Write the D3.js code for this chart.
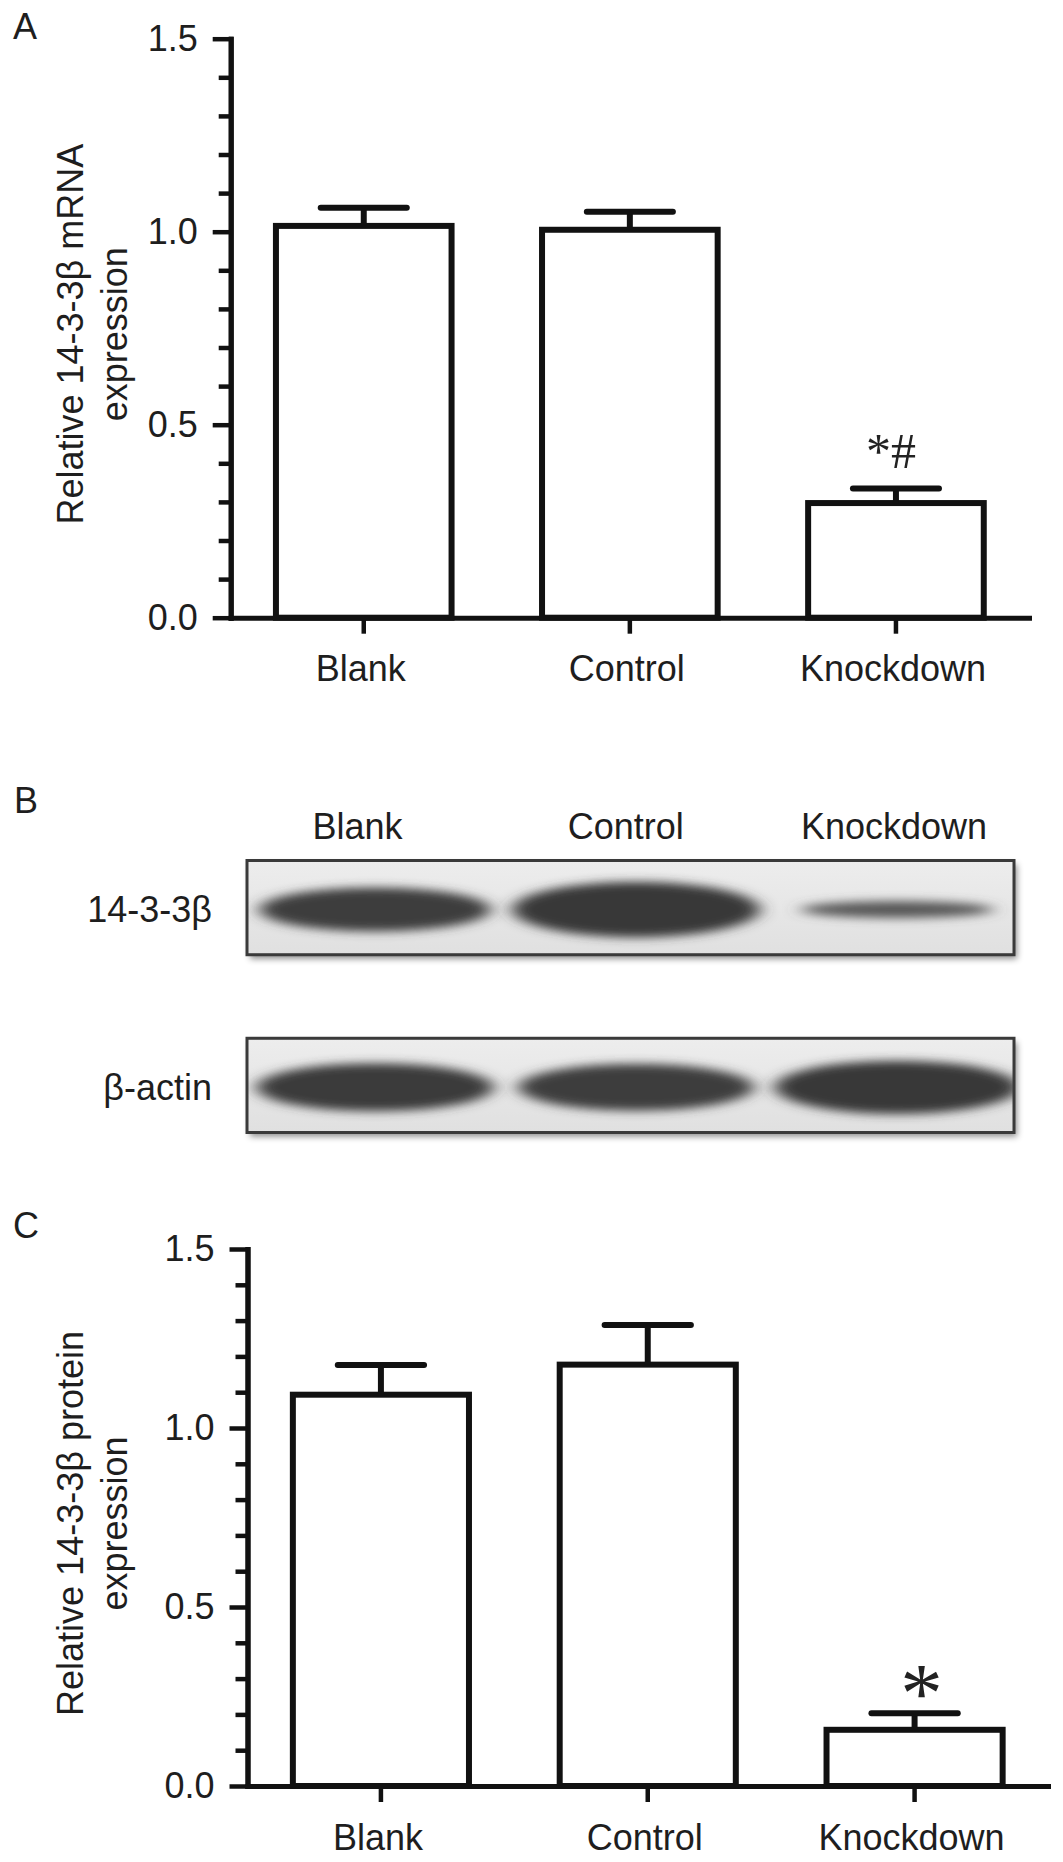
<!DOCTYPE html>
<html>
<head>
<meta charset="utf-8">
<script src="https://cdn.jsdelivr.net/npm/d3@7"></script>
<style>
  body { margin: 0; background: #fff; }
  svg text { font-family: "Liberation Sans", Arial, sans-serif; fill: #1e1e1e; }
  .axis .domain { stroke: #111; stroke-width: 5; stroke-linecap: square; }
  .axis .tick line { stroke: #111; stroke-width: 4.5; }
  .axis .tick text { font-size: 36px; }
  .mark { font-family: "Liberation Serif", "Times New Roman", serif !important; }
</style>
</head>
<body>
<div id="fig"></div>
<script>
// values
var groups = ['Blank', 'Control', 'Knockdown']

var mrnaMean = [1.015, 1.005, 0.297]
var mrnaErr  = [0.047, 0.047, 0.038]
var mrnaMark = ['', '', '*#']

var proteinMean = [1.093, 1.177, 0.157]
var proteinErr  = [0.083, 0.111, 0.046]
var proteinMark = ['', '', '*']

var yTicks = [0, 0.5, 1.0, 1.5]
var yMinor = [0.1, 0.2, 0.3, 0.4, 0.6, 0.7, 0.8, 0.9, 1.1, 1.2, 1.3, 1.4]

// western blot rows and relative band densities
var blotRows = ['14-3-3β', 'β-actin']
var targetDensity = [0.96, 1.18, 0.44]
var actinDensity  = [1.04, 1.02, 1.14]

var W = 1063, H = 1862

var svg = d3.select('#fig').append('svg')
    .attr('width', W)
    .attr('height', H)
    .attr('viewBox', '0 0 ' + W + ' ' + H)

var defs = svg.append('defs')

function barPanel(cfg) {
  var y = d3.scaleLinear().domain([0, 1.5]).range([cfg.y0, cfg.y1])
  var x = d3.scaleBand().domain(groups)
      .range([cfg.left, cfg.right])
      .paddingInner(0.34)
      .paddingOuter(0.17)

  var g = svg.append('g')

  // panel letter
  g.append('text')
      .attr('x', 13)
      .attr('y', cfg.letterY)
      .style('font-size', '36px')
      .text(cfg.letter)

  // minor ticks
  g.append('g')
      .attr('class', 'axis')
      .attr('transform', 'translate(' + cfg.left + ',0)')
      .call(d3.axisLeft(y).tickValues(yMinor).tickSize(12).tickSizeOuter(0).tickFormat(''))

  g.append('g')
      .attr('class', 'axis')
      .attr('transform', 'translate(' + cfg.left + ',0)')
      .call(d3.axisLeft(y).tickValues(yTicks).tickSize(18).tickSizeOuter(0)
        .tickPadding(15).tickFormat(d3.format('.1f')))

  var xa = g.append('g')
      .attr('class', 'axis')
      .attr('transform', 'translate(0,' + cfg.y0 + ')')
      .call(d3.axisBottom(x).tickSize(16).tickSizeOuter(0).tickPadding(22))
  xa.selectAll('.tick text').attr('dx', -3)

  // y label, two lines
  var midY = (cfg.y0 + cfg.y1) / 2 + 6
  cfg.yLabel.forEach(function(t, i) {
    g.append('text')
        .attr('transform', 'translate(' + (83 + i * 44) + ',' + midY + ') rotate(-90)')
        .attr('text-anchor', 'middle')
        .style('font-size', '36px')
        .text(t)
  })

  var data = groups.map(function(k, i) {
    return {key: k, mean: cfg.mean[i], err: cfg.err[i], mark: cfg.mark[i]}
  })

  var bars = g.append('g')
  bars.selectAll('rect')
      .data(data)
    .enter().append('rect')
      .attr('x', function(d) { return x(d.key) })
      .attr('width', x.bandwidth())
      .attr('y', function(d) { return y(d.mean) })
      .attr('height', function(d) { return cfg.y0 - y(d.mean) })
      .attr('fill', '#fff')
      .attr('stroke', '#111')
      .attr('stroke-width', 6)

  var capW = x.bandwidth() * 0.245
  var eb = bars.selectAll('.eb')
      .data(data)
    .enter().append('g')
      .attr('class', 'eb')
      .attr('stroke', '#111')
      .attr('stroke-width', 6)
  eb.append('line')
      .attr('x1', function(d) { return x(d.key) + x.bandwidth() / 2 })
      .attr('x2', function(d) { return x(d.key) + x.bandwidth() / 2 })
      .attr('y1', function(d) { return y(d.mean) })
      .attr('y2', function(d) { return y(d.mean + d.err) })
  eb.append('line')
      .attr('stroke-linecap', 'round')
      .attr('x1', function(d) { return x(d.key) + x.bandwidth() / 2 - capW })
      .attr('x2', function(d) { return x(d.key) + x.bandwidth() / 2 + capW })
      .attr('y1', function(d) { return y(d.mean + d.err) })
      .attr('y2', function(d) { return y(d.mean + d.err) })

  bars.selectAll('.mark')
      .data(data.filter(function(d) { return d.mark }))
    .enter().append('text')
      .attr('class', 'mark')
      .attr('text-anchor', 'middle')
      .attr('x', function(d) { return x(d.key) + x.bandwidth() / 2 + cfg.markDx })
      .attr('y', function(d) { return y(d.mean + d.err) + cfg.markDy })
      .style('font-size', cfg.markSize + 'px')
      .style('fill', '#222')
      .text(function(d) { return d.mark })
}

barPanel({
  letter: 'A', letterY: 39,
  left: 230.7, right: 1029, y0: 617.7, y1: 38.7,
  mean: mrnaMean, err: mrnaErr, mark: mrnaMark,
  yLabel: ['Relative 14-3-3β mRNA', 'expression'],
  markSize: 50, markDx: -5, markDy: -20
})

barPanel({
  letter: 'C', letterY: 1238,
  left: 247.5, right: 1048, y0: 1786, y1: 1249,
  mean: proteinMean, err: proteinErr, mark: proteinMark,
  yLabel: ['Relative 14-3-3β protein', 'expression'],
  markSize: 85, markDx: 7, markDy: 9
})

// ---- panel B : western blot ----
var blur = defs.append('filter').attr('id', 'blur')
    .attr('x', '-25%').attr('y', '-80%').attr('width', '150%').attr('height', '260%')
blur.append('feGaussianBlur').attr('stdDeviation', '9 5')

var shadow = defs.append('filter').attr('id', 'shadow')
    .attr('x', '-5%').attr('y', '-10%').attr('width', '112%').attr('height', '135%')
shadow.append('feDropShadow')
    .attr('dx', 3).attr('dy', 4).attr('stdDeviation', 3)
    .attr('flood-color', '#000').attr('flood-opacity', 0.45)

var grad = defs.append('linearGradient').attr('id', 'membrane')
    .attr('x1', 0).attr('y1', 0).attr('x2', 0).attr('y2', 1)
grad.append('stop').attr('offset', '0%').attr('stop-color', '#ededed')
grad.append('stop').attr('offset', '100%').attr('stop-color', '#e0e0e0')

var gb = svg.append('g')

gb.append('text')
    .attr('x', 14)
    .attr('y', 813)
    .style('font-size', '36px')
    .text('B')

var laneLabel = d3.scalePoint().domain(groups).range([357.5, 894])
var lane = d3.scalePoint().domain(groups).range([375, 897])

gb.selectAll('.lanelabel')
    .data(groups)
  .enter().append('text')
    .attr('class', 'lanelabel')
    .attr('x', function(d) { return laneLabel(d) })
    .attr('y', 839)
    .attr('text-anchor', 'middle')
    .style('font-size', '36px')
    .text(function(d) { return d })

var rowY = d3.scaleBand().domain(blotRows).range([860.5, 1132.5]).paddingInner(0.47)
var bandW = d3.scaleLinear().domain([0, 1]).range([172, 246])
var bandH = d3.scaleLinear().domain([0, 1]).range([0, 52])
var bandC = d3.scaleLinear().domain([0.4, 1.1]).range(['#585858', '#383838']).clamp(true)
var densities = [targetDensity, actinDensity]

blotRows.forEach(function(row, r) {
  var top = rowY(row), h = rowY.bandwidth()
  var bx = 247, bw = 767

  defs.append('clipPath').attr('id', 'clip' + r)
    .append('rect').attr('x', bx).attr('y', top).attr('width', bw).attr('height', h)

  gb.append('rect')
      .attr('x', bx).attr('y', top)
      .attr('width', bw).attr('height', h)
      .attr('fill', 'url(#membrane)')
      .attr('filter', 'url(#shadow)')

  gb.append('g')
      .attr('clip-path', 'url(#clip' + r + ')')
    .selectAll('ellipse')
      .data(densities[r])
    .enter().append('ellipse')
      .attr('cx', function(d, i) { return lane(groups[i]) })
      .attr('cy', top + h * 0.52)
      .attr('rx', function(d) { return bandW(d) / 2 - 6 })
      .attr('ry', function(d) { return bandH(d) / 2 - 3 })
      .attr('fill', function(d) { return bandC(d) })
      .attr('filter', 'url(#blur)')

  gb.append('rect')
      .attr('x', bx).attr('y', top)
      .attr('width', bw).attr('height', h)
      .attr('fill', 'none')
      .attr('stroke', '#3a3a3a')
      .attr('stroke-width', 3)

  gb.append('text')
      .attr('x', 212)
      .attr('y', top + h * 0.52)
      .attr('dy', '0.36em')
      .attr('text-anchor', 'end')
      .style('font-size', '36px')
      .text(row)
})
</script>
</body>
</html>
